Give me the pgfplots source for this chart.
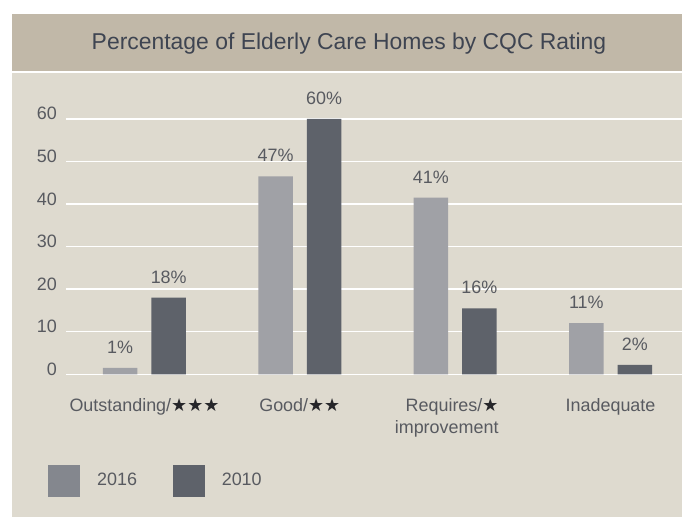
\documentclass[border=0pt]{standalone}
\usepackage{pgfplots}
\pgfplotsset{compat=1.18}
\usepackage{pgfplotstable}
\usepackage{fontspec}
\setmainfont{Liberation Sans}
\newfontfamily\sym{DejaVu Sans}
\definecolor{panel}{RGB}{222,218,207}
\definecolor{header}{RGB}{193,184,168}
\definecolor{titlec}{RGB}{62,68,81}
\definecolor{labc}{RGB}{88,90,96}
\definecolor{starc}{RGB}{38,38,42}
\definecolor{bar16}{RGB}{160,161,166}
\definecolor{bar10}{RGB}{94,98,106}
\definecolor{leg16}{RGB}{132,135,142}
\definecolor{leg10}{RGB}{94,98,106}
\pgfplotstableread{
x y lab
0 1.5 1
1 46.5 47
2 41.5 41
3 12 11
}\datasixteen
\pgfplotstableread{
x y lab
0 18 18
1 60 60
2 15.5 16
3 2.2 2
}\dataten
\pgfplotsset{
 sq16/.style={legend image code/.code={\fill[leg16] (0bp,-15.5bp) rectangle (31bp,15.5bp);}},
 sq10/.style={legend image code/.code={\fill[leg10] (0bp,-15.5bp) rectangle (31bp,15.5bp);}},
}
\newcommand{\stars}[1]{{\sym\color{starc}#1}}
\begin{document}
\begin{tikzpicture}
\useasboundingbox (0,0) rectangle (682bp,517bp);
\fill[white] (0,0) rectangle (682bp,517bp);
\fill[panel] (12bp,0) rectangle (682bp,444bp);
\fill[header] (12bp,446bp) rectangle (682bp,503bp);
\node[anchor=base, text=titlec, font=\fontsize{23}{27}\selectfont, inner sep=0pt] at (349bp,467.7bp) {Percentage of Elderly Care Homes by CQC Rating};
\begin{axis}[
  at={(66bp,142.7bp)}, anchor=south west,
  scale only axis, width=616bp, height=255.3bp,
  xmin=-0.505, xmax=3.46, ymin=0, ymax=60,
  clip=false,
  axis line style={draw=none},
  major tick length=0pt,
  tick style={draw=none},
  ytick={0,10,...,60},
  ymajorgrids,
  grid style={white, line width=1.5bp},
  xtick={0,1,2,3},
  xticklabels={{Outstanding/\stars{★★★}},{Good/\stars{★★}},{Requires/\stars{★}\hspace*{17bp}\\improvement\hspace*{17bp}},{Inadequate}},
  /pgf/number format/assume math mode=true,
  ticklabel style={font=\fontsize{18}{21.7}\selectfont, text=labc},
  yticklabel style={anchor=base east, inner sep=0pt, xshift=-9bp, yshift=-1bp},
  xticklabel style={anchor=north, inner sep=0pt, yshift=-24bp, align=right},
  ybar, bar width=34.5bp,
  nodes near coords={\pgfplotspointmeta\%},
  point meta=explicit symbolic,
  nodes near coords style={font=\fontsize{18}{21.7}\selectfont, text=labc, inner sep=0pt, anchor=base, yshift=14.5bp},
  legend style={draw=none, fill=none, inner sep=0pt, outer sep=0pt,
    at={(-0.02922,-0.4767)}, anchor=south west,
    nodes={inner sep=0pt, anchor=west, font=\fontsize{18}{21.7}\selectfont, text=labc},
    /tikz/every odd column/.append style={column sep=17.7bp},
    /tikz/every even column/.append style={column sep=35.7bp}},
  legend columns=2,
]
\addplot[fill=bar16, draw=none, bar shift=-24.25bp, forget plot] table[x=x, y=y, meta=lab]{\datasixteen};
\addplot[fill=bar10, draw=none, bar shift=24.25bp, forget plot] table[x=x, y=y, meta=lab]{\dataten};
\addlegendimage{sq16}
\addlegendentry{2016}
\addlegendimage{sq10}
\addlegendentry{2010}
\end{axis}
\end{tikzpicture}
\end{document}
